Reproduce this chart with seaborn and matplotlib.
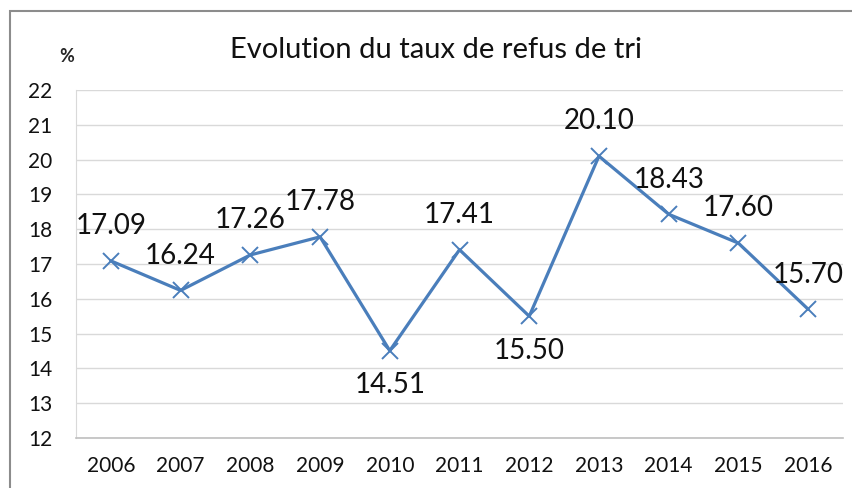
import matplotlib
matplotlib.use("Agg")
import matplotlib.pyplot as plt
import seaborn as sns
import pandas as pd
from matplotlib.patches import Rectangle

# Données
years = ["2006", "2007", "2008", "2009", "2010", "2011", "2012", "2013", "2014", "2015", "2016"]
taux = [17.09, 16.24, 17.26, 17.78, 14.51, 17.41, 15.50, 20.10, 18.43, 17.60, 15.70]
# position des étiquettes : au-dessus (1) ou en dessous (-1)
label_side = [1, 1, 1, 1, -1, 1, -1, 1, 1, 1, 1]

sns.set_style("white")
plt.rcParams['font.family'] = ['Lato', 'DejaVu Sans']

df = pd.DataFrame({"annee": years, "taux": taux})

fig = plt.figure(figsize=(8.53, 4.88), dpi=100)
ax = fig.add_axes([76/853, 1 - 438/488, (843 - 76)/853, (438 - 90)/488])

blue = "#4a7ebb"
sns.lineplot(data=df, x="annee", y="taux", ax=ax, color=blue, linewidth=2.3,
             marker="x", markersize=12, markeredgewidth=1.4, markeredgecolor=blue)

ax.set_xlim(-0.5, len(years) - 0.5)
ax.set_ylim(12, 22)
ax.set_yticks(range(12, 23))
ax.yaxis.grid(True, color="#d9d9d9", linewidth=1)
ax.set_xlabel("")
ax.set_ylabel("")
ax.tick_params(axis="y", length=0, pad=17, labelsize=15, labelcolor="#111111")
ax.tick_params(axis="x", length=0, pad=13, labelsize=15, labelcolor="#111111")

for s in ["top", "right"]:
    ax.spines[s].set_visible(False)
ax.spines["left"].set_color("#d9d9d9")
ax.spines["bottom"].set_color("#bfbfbf")
ax.spines["bottom"].set_linewidth(1.2)

# étiquettes de données
for i, (v, side) in enumerate(zip(taux, label_side)):
    ax.annotate(f"{v:.2f}", (i, v), xytext=(0, 25 * side), textcoords="offset points",
                ha="center", va="center", fontsize=20, color="#111111")

fig.text(436/853, 1 - 50/488, "Evolution du taux de refus de tri", ha="center", va="center",
         fontsize=21, color="#111111")
fig.text(67/853, 1 - 56/488, "%", ha="center", va="center", fontsize=13, fontweight="bold")

# cadre du graphique
fig.patches.append(Rectangle((10/853, -0.1), 2, 1.1 - 11/488, transform=fig.transFigure,
                             fill=False, edgecolor="#8c8c8c", linewidth=1.5))

fig.savefig("out.png", dpi=100)
